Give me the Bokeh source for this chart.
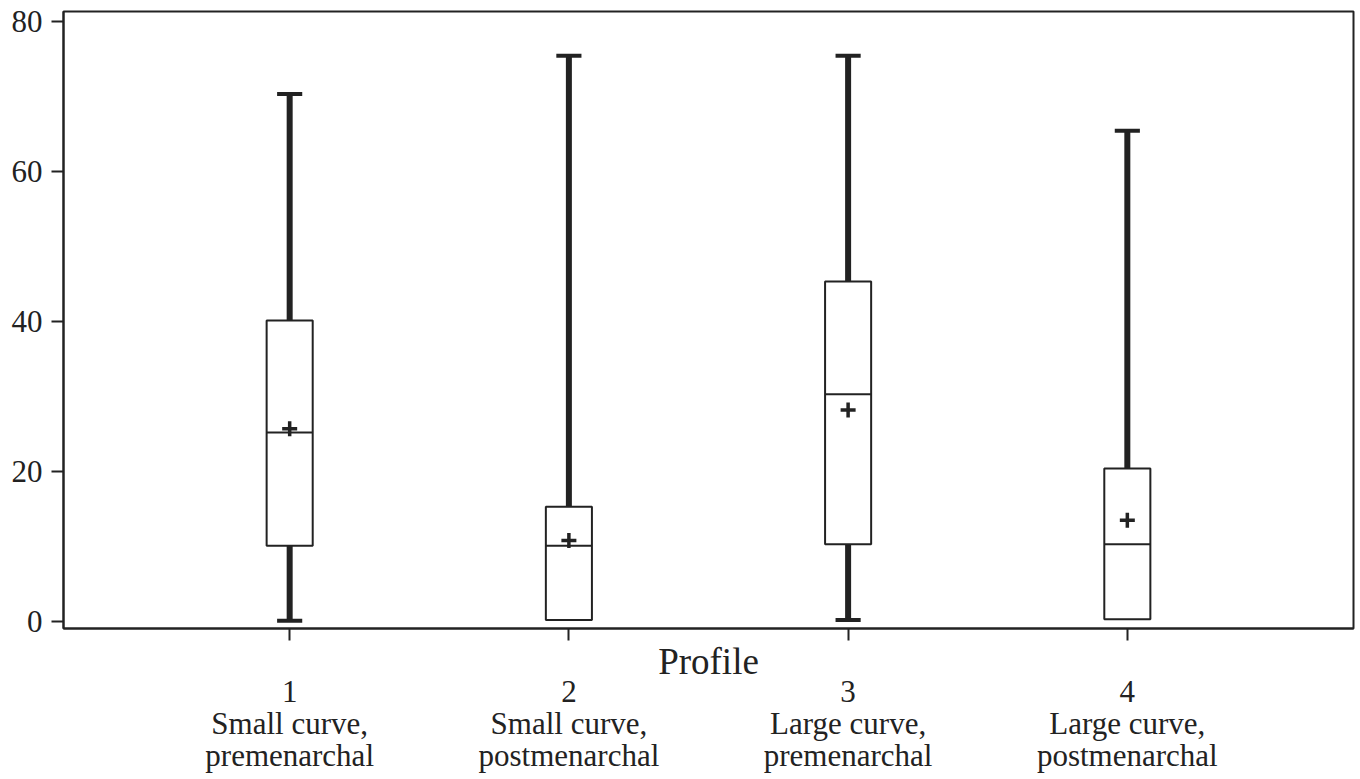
from bokeh.plotting import figure
from bokeh.models import FixedTicker, LinearAxis, Range1d
from bokeh.embed import file_html
from bokeh.resources import INLINE

# ---- data ----
profiles = [1, 2, 3, 4]
profile_names = ["Small curve,\npremenarchal", "Small curve,\npostmenarchal",
                 "Large curve,\npremenarchal", "Large curve,\npostmenarchal"]
whisker_low = [0.1, 0.2, 0.2, 0.3]
q1 = [10.1, 0.2, 10.3, 0.3]
median = [25.2, 10.1, 30.3, 10.3]
q3 = [40.1, 15.3, 45.3, 20.4]
whisker_high = [70.3, 75.4, 75.4, 65.4]
mean = [25.7, 10.8, 28.2, 13.5]
y_ticks = [0, 20, 40, 60, 80]

INK = "#222222"
FONT = "Liberation Serif"
BOX_W = 0.165
CAP_W = 0.09

p = figure(frame_width=1290, frame_height=617,
           x_range=Range1d(0.19, 4.81), y_range=Range1d(-0.93, 81.29),
           output_backend="svg", toolbar_location=None,
           min_border_left=63, min_border_right=2, min_border_top=11, min_border_bottom=4)
p.xgrid.visible = False
p.ygrid.visible = False
p.outline_line_color = INK
p.outline_line_width = 2
p.background_fill_color = "white"
p.border_fill_color = "white"

# whiskers (upper)
p.segment(x0=profiles, y0=q3, x1=profiles, y1=whisker_high, line_color=INK, line_width=6)
p.segment(x0=[x - CAP_W / 2 for x in profiles], y0=whisker_high,
          x1=[x + CAP_W / 2 for x in profiles], y1=whisker_high, line_color=INK, line_width=4)
# whiskers (lower) only where they extend below the box
lx = [x for x, lo, b in zip(profiles, whisker_low, q1) if b - lo > 1]
llo = [lo for x, lo, b in zip(profiles, whisker_low, q1) if b - lo > 1]
lq1 = [b for x, lo, b in zip(profiles, whisker_low, q1) if b - lo > 1]
p.segment(x0=lx, y0=lq1, x1=lx, y1=llo, line_color=INK, line_width=6)
p.segment(x0=[x - CAP_W / 2 for x in lx], y0=llo,
          x1=[x + CAP_W / 2 for x in lx], y1=llo, line_color=INK, line_width=4)

# boxes
p.vbar(x=profiles, width=BOX_W, bottom=q1, top=q3, fill_color="white",
       line_color=INK, line_width=2)
# medians
p.segment(x0=[x - BOX_W / 2 for x in profiles], y0=median,
          x1=[x + BOX_W / 2 for x in profiles], y1=median, line_color=INK, line_width=2)
# means
p.scatter(x=profiles, y=mean, marker="cross", size=15, line_width=3.5, line_color=INK)

# y axis
ya = p.yaxis[0]
ya.ticker = FixedTicker(ticks=y_ticks)
ya.major_tick_out = 12
ya.major_tick_in = 0
ya.minor_tick_line_color = None
ya.major_tick_line_width = 2
ya.major_tick_line_color = INK
ya.axis_line_color = INK
ya.axis_line_width = 2
ya.major_label_standoff = 9
ya.major_label_text_font = FONT
ya.major_label_text_font_size = "31px"
ya.major_label_text_color = INK

# x axis: ticks + title
xa = p.xaxis[0]
xa.ticker = FixedTicker(ticks=profiles)
xa.major_label_overrides = {k: "" for k in profiles}
xa.major_tick_out = 12
xa.major_tick_in = 0
xa.minor_tick_line_color = None
xa.major_tick_line_width = 2
xa.major_tick_line_color = INK
xa.axis_line_color = INK
xa.axis_line_width = 2
xa.major_label_standoff = 0
xa.axis_label = "Profile"
xa.axis_label_text_font = FONT
xa.axis_label_text_font_size = "37px"
xa.axis_label_text_font_style = "normal"
xa.axis_label_text_color = INK
xa.axis_label_standoff = 0

# category labels axis
ca = LinearAxis(ticker=FixedTicker(ticks=profiles),
                major_label_overrides={k: f"{k}\n{n}" for k, n in zip(profiles, profile_names)})
ca.axis_line_color = None
ca.major_tick_line_color = None
ca.minor_tick_line_color = None
ca.major_tick_out = 0
ca.major_tick_in = 0
ca.major_label_standoff = -11
ca.major_label_text_font = FONT
ca.major_label_text_font_size = "31px"
ca.major_label_text_color = INK
ca.major_label_text_line_height = 0.92
p.add_layout(ca, "below")

open("out.html", "w").write(file_html(p, INLINE))
